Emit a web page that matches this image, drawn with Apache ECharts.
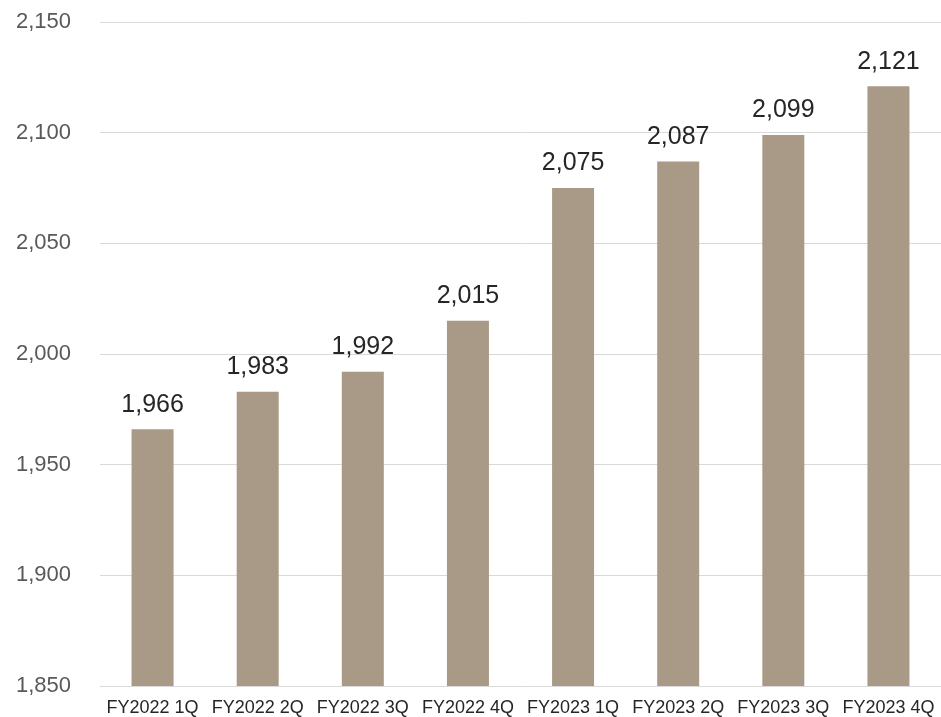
<!DOCTYPE html>
<html><head><meta charset="utf-8">
<script src="https://cdn.jsdelivr.net/npm/echarts@6/dist/echarts.min.js"></script>
<style>html,body{margin:0;padding:0;background:#fff}#c{width:941px;height:717px}</style>
</head><body><div id="c"></div>
<script>
const categories = ['FY2022 1Q','FY2022 2Q','FY2022 3Q','FY2022 4Q','FY2023 1Q','FY2023 2Q','FY2023 3Q','FY2023 4Q'];
const values = [1966, 1983, 1992, 2015, 2075, 2087, 2099, 2121];
const yMin = 1850, yMax = 2150, yStep = 50;
const fmt = v => v.toLocaleString('en-US');
const chart = echarts.init(document.getElementById('c'));
chart.setOption({
  animation: false,
  textStyle: { fontFamily: '"Liberation Sans", Arial, sans-serif' },
  grid: { left: 100, right: 0, top: 22, bottom: 31, containLabel: false },
  xAxis: {
    type: 'category', data: categories,
    axisLine: { show: true, lineStyle: { color: '#d9d9d9', width: 1 } },
    axisTick: { show: false },
    axisLabel: { color: '#262626', fontSize: 18, margin: 13, interval: 0 }
  },
  yAxis: {
    type: 'value', min: yMin, max: yMax, interval: yStep,
    axisLine: { show: false }, axisTick: { show: false },
    axisLabel: { color: '#595959', fontSize: 22, margin: 29, formatter: fmt },
    splitLine: { lineStyle: { color: '#d9d9d9', width: 1 } }
  },
  series: [{
    type: 'bar', data: values, barWidth: 42,
    itemStyle: { color: '#a89a86' },
    label: { show: true, position: 'top', distance: 12, color: '#262626', fontSize: 25, formatter: p => fmt(p.value) }
  }]
});
</script></body></html>
